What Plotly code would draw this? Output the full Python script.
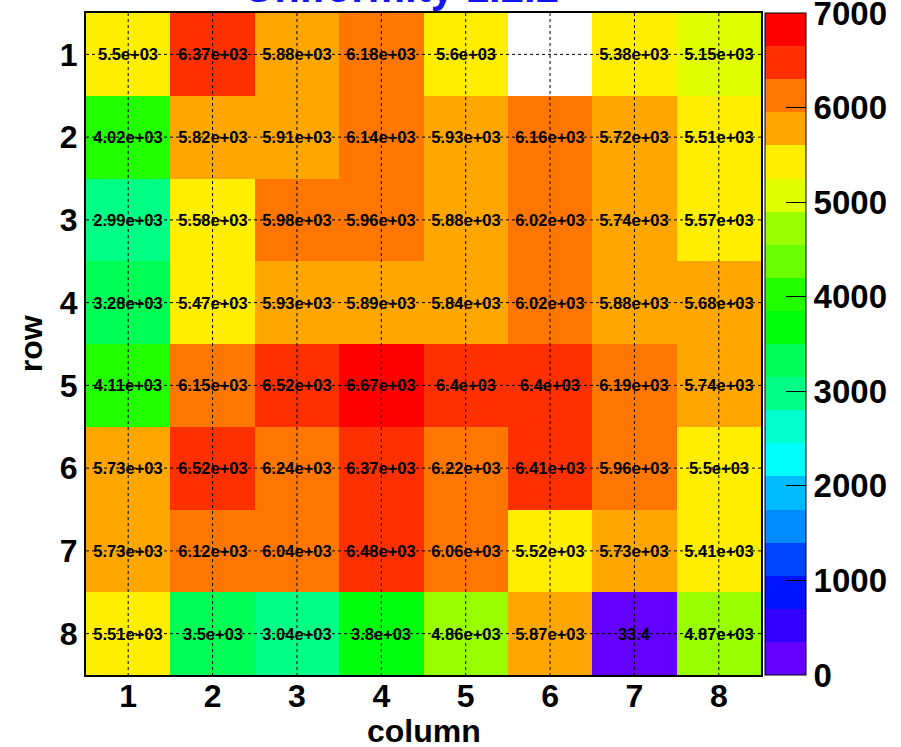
import plotly.graph_objects as go
import colorsys

columns = [1, 2, 3, 4, 5, 6, 7, 8]
rows = [1, 2, 3, 4, 5, 6, 7, 8]

row1 = [5500, 6370, 5880, 6180, 5598, None, 5380, 5150]
row2 = [4020, 5820, 5910, 6140, 5930, 6160, 5720, 5510]
row3 = [2990, 5580, 5980, 5960, 5880, 6020, 5740, 5570]
row4 = [3280, 5470, 5930, 5890, 5840, 6020, 5880, 5680]
row5 = [4110, 6150, 6520, 6670, 6400, 6400, 6190, 5740]
row6 = [5730, 6520, 6240, 6370, 6220, 6410, 5960, 5500]
row7 = [5730, 6120, 6040, 6480, 6060, 5520, 5730, 5410]
row8 = [5510, 3496, 3040, 3800, 4860, 5870, 33.4, 4870]
z = [row1, row2, row3, row4, row5, row6, row7, row8]

cbar_ticks = [0, 1000, 2000, 3000, 4000, 5000, 6000, 7000]
zmin, zmax, ncont = 0, 7000, 20

# ROOT "pretty" palette (50 hues, 280 -> 0) sampled for 20 contours
def root_color(k):
    idx = int((k + 0.99) * 50 / ncont)
    hue = 280 - (idx + 1) * (280 / 50)
    r, g, b = colorsys.hls_to_rgb((hue % 360) / 360.0, 0.5, 1.0)
    return "rgb(%d,%d,%d)" % (round(r * 255), round(g * 255), round(b * 255))

colorscale = []
for k in range(ncont):
    c = root_color(k)
    colorscale.append([k / ncont, c])
    colorscale.append([(k + 1) / ncont, c])

text = [["" if v is None else ("%.3g" % v) for v in r] for r in z]

FONT = "Liberation Sans"

fig = go.Figure()
fig.add_trace(go.Heatmap(
    z=z, x=columns, y=rows, text=text, texttemplate="%{text}",
    textfont=dict(family=FONT, size=16.5, color="black", weight="bold"),
    colorscale=colorscale, zmin=zmin, zmax=zmax,
    xgap=0, ygap=0,
    colorbar=dict(
        x=1.006, xanchor="left", xref="paper",
        y=0.5, yanchor="middle", len=1.0, lenmode="fraction",
        thickness=41, thicknessmode="pixels",
        outlinewidth=1, outlinecolor="black",
        tickmode="array", tickvals=cbar_ticks, ticktext=[str(t) for t in cbar_ticks],
        ticks="inside", ticklen=20, tickcolor="black", tickwidth=1,
        ticklabeloverflow="allow",
        tickfont=dict(family=FONT, size=33, color="black", weight="bold"),
        xpad=0, ypad=0,
    ),
    showscale=True,
))

# dotted grid drawn on top of the cells
xr = [min(columns) - 0.5, max(columns) + 0.5]
yr = [min(rows) - 0.5, max(rows) + 0.5]
for c in columns:
    fig.add_trace(go.Scatter(x=[c, c], y=yr, mode="lines", showlegend=False, hoverinfo="skip",
                             line=dict(color="black", width=1, dash="dot")))
for r in rows:
    fig.add_trace(go.Scatter(x=xr, y=[r, r], mode="lines", showlegend=False, hoverinfo="skip",
                             line=dict(color="black", width=1, dash="dot")))

title_font = dict(family=FONT, size=32, color="black", weight="bold")

fig.update_layout(
    width=901, height=747,
    margin=dict(l=86, r=140, t=13, b=72, autoexpand=False),
    paper_bgcolor="white", plot_bgcolor="white",
    showlegend=False,
    xaxis=dict(
        range=xr, tickvals=columns, ticks="", showgrid=False, zeroline=False,
        showline=True, linecolor="black", linewidth=2, mirror=True, automargin=False,
        tickfont=dict(family=FONT, size=32, color="black", weight="bold"),
        ticklabelstandoff=-8,
    ),
    yaxis=dict(
        range=[yr[1], yr[0]], tickvals=rows, ticks="", showgrid=False, zeroline=False,
        showline=True, linecolor="black", linewidth=2, mirror=True, automargin=False,
        tickfont=dict(family=FONT, size=32, color="black", weight="bold"),
        ticklabelstandoff=0,
    ),
    annotations=[
        dict(text="Uniformity 1.2.2", xref="paper", yref="paper", x=0.468, y=1.0,
             xanchor="center", yanchor="bottom", showarrow=False,
             font=dict(family=FONT, size=42, color="rgb(20,20,240)", weight="bold")),
        dict(text="column", xref="paper", yref="paper", x=0.5, y=-0.085,
             xanchor="center", yanchor="middle", showarrow=False, font=title_font),
        dict(text="row", xref="paper", yref="paper", x=-0.081, y=0.5, textangle=-90,
             xanchor="center", yanchor="middle", showarrow=False, font=title_font),
    ],
)

fig.write_html("out.html")
